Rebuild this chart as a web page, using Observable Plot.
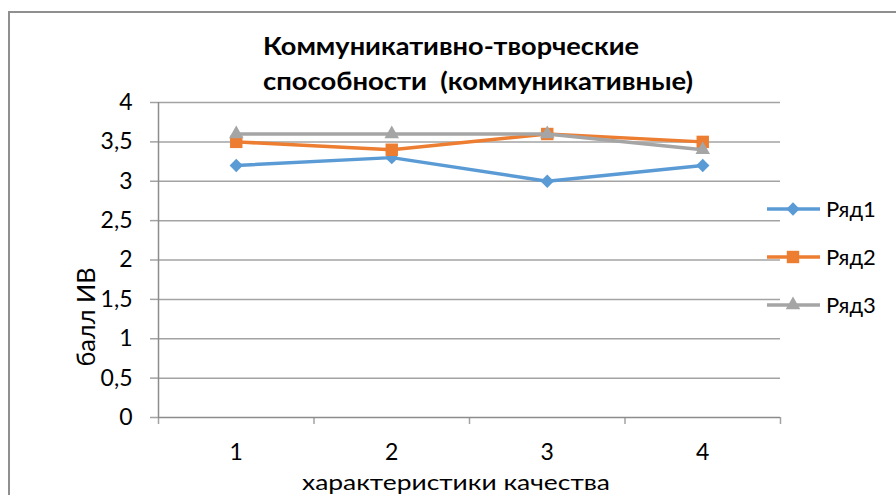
<!DOCTYPE html>
<html>
<head>
<meta charset="utf-8">
<script src="https://cdn.jsdelivr.net/npm/d3@7"></script>
<script src="https://cdn.jsdelivr.net/npm/@observablehq/plot@0.6"></script>
<style>
  html, body { margin: 0; padding: 0; background: #fff; }
  #wrap { position: relative; width: 896px; height: 495px; overflow: hidden; background: #fff; font-family: Lato, "Open Sans", sans-serif; }
  #frame { position: absolute; left: 8px; top: 11px; width: 1000px; height: 600px; border: 2px solid #8f8f8f; box-sizing: border-box; }
  #plot, #overlay { position: absolute; left: 0; top: 0; }
  #overlay text { white-space: pre; }
</style>
</head>
<body>
<div id="wrap">
  <div id="frame"></div>
  <div id="plot"></div>
  <svg id="overlay" width="896" height="495"></svg>
</div>
<script>
// ---- data ----
const categories = [1, 2, 3, 4];
const seriesNames = ["Ряд1", "Ряд2", "Ряд3"];
const ryad1 = [3.2, 3.3, 3.0, 3.2];
const ryad2 = [3.5, 3.4, 3.6, 3.5];
const ryad3 = [3.6, 3.6, 3.6, 3.4];
const yTicks = [0, 0.5, 1, 1.5, 2, 2.5, 3, 3.5, 4];
const xTickLabels = ["1", "2", "3", "4"];
const xBoundaries = [0.5, 1.5, 2.5, 3.5, 4.5];
const titleLines = ["Коммуникативно-творческие", "способности  (коммуникативные)"];
const xLabel = "характеристики качества";
const yLabel = "балл ИВ";

const colors = ["#5b9bd5", "#ed7d31", "#a5a5a5"];
const gridColor = "#a3a3a3";
const axisColor = "#8c8c8c";

const values = [ryad1, ryad2, ryad3];
const rows = seriesNames.flatMap((s, k) => categories.map((c, i) => ({ series: s, x: c, y: values[k][i] })));
const fmt = v => String(v).replace(".", ",");

const diamondSym = { draw(ctx, size) { const r = Math.sqrt(size) * 0.62625; ctx.moveTo(0, -r); ctx.lineTo(r, 0); ctx.lineTo(0, r); ctx.lineTo(-r, 0); ctx.closePath(); } };
const symbols = [diamondSym, "square", "triangle"];
const radii = [6.0, 7.0, 5.4];

const seriesMarks = seriesNames.flatMap((s, k) => {
  const data = rows.filter(d => d.series === s);
  return [
    Plot.line(data, { x: "x", y: "y", stroke: colors[k], strokeWidth: 3.5 }),
    Plot.dot(data, { x: "x", y: "y", fill: colors[k], stroke: "none", symbol: () => symbols[k], r: radii[k] })
  ];
});

const chart = Plot.plot({
  width: 896,
  height: 495,
  marginLeft: 158,
  marginRight: 116,
  marginTop: 102,
  marginBottom: 78,
  style: { fontFamily: "Lato, 'Open Sans', sans-serif", background: "transparent", color: "#000", overflow: "visible" },
  x: { domain: [0.5, 4.5] },
  y: { domain: [0, 4] },
  symbol: { type: "identity" },
  marks: [
    Plot.gridY(yTicks.filter(v => v > 0), { stroke: gridColor, strokeOpacity: 1, strokeWidth: 1.5 }),
    Plot.axisY(yTicks, { tickSize: 8, tickPadding: 18, fontSize: 23, tickFormat: fmt, stroke: gridColor, strokeWidth: 1.5, label: null }),
    Plot.axisX(xBoundaries, { tickSize: 7, tickFormat: () => "", stroke: gridColor, strokeWidth: 1.5, label: null }),
    Plot.axisX(categories, { tickSize: 0, tickPadding: 26, fontSize: 23, tickFormat: (d) => xTickLabels[categories.indexOf(d)], label: null }),
    Plot.ruleX([0.5], { stroke: axisColor, strokeWidth: 1.5 }),
    Plot.ruleY([0], { stroke: axisColor, strokeWidth: 1.5 }),
    ...seriesMarks
  ]
});
document.getElementById("plot").appendChild(chart);

// ---- overlay texts & legend ----
const svg = d3.select("#overlay");
const title = svg.append("g").attr("font-family", "Lato, 'Open Sans', sans-serif").attr("font-weight", "bold").attr("font-size", 24).attr("fill", "#000");
title.append("text").attr("x", 263).attr("y", 55).attr("textLength", 376).attr("lengthAdjust", "spacingAndGlyphs").text(titleLines[0]);
title.append("text").attr("x", 263).attr("y", 90).attr("textLength", 430).attr("lengthAdjust", "spacingAndGlyphs").text(titleLines[1]);

svg.append("text").attr("x", 456).attr("y", 490).attr("text-anchor", "middle")
  .attr("font-family", "Lato, sans-serif").attr("font-size", 21)
  .attr("textLength", 308).attr("lengthAdjust", "spacingAndGlyphs").text(xLabel);

svg.append("text").attr("transform", "translate(95,317) rotate(-90)").attr("text-anchor", "middle")
  .attr("font-family", "Lato, sans-serif").attr("font-size", 25)
  .attr("textLength", 99).attr("lengthAdjust", "spacingAndGlyphs").text(yLabel);

const legendY = [209, 257, 305];
const symSizes = radii.map(r => r * r * Math.PI);
const d3Syms = [diamondSym, d3.symbolSquare, d3.symbolTriangle];
seriesNames.forEach((s, k) => {
  const g = svg.append("g");
  g.append("line").attr("x1", 767).attr("x2", 820).attr("y1", legendY[k]).attr("y2", legendY[k]).attr("stroke", colors[k]).attr("stroke-width", 3.5);
  g.append("path").attr("d", d3.symbol(d3Syms[k], symSizes[k])()).attr("transform", `translate(793,${legendY[k]})`).attr("fill", colors[k]);
  g.append("text").attr("x", 826).attr("y", legendY[k] + 8).attr("font-family", "Lato, sans-serif").attr("font-size", 22).attr("fill", "#000").text(s);
});
</script>
</body>
</html>
